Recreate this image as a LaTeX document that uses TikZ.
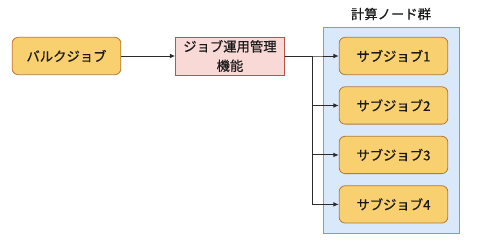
\documentclass[tikz,border=0pt]{standalone}
\usepackage{fontspec}
\newfontfamily\jpfont[FakeBold=0.6]{Noto Sans CJK JP}
\usetikzlibrary{positioning, arrows.meta}
\definecolor{JobFill}   {HTML}{F9D06F}
\definecolor{JobLine}   {HTML}{B47A36}
\definecolor{MgrFill}   {HTML}{F8D9D6}
\definecolor{MgrLine}   {HTML}{B85450}
\definecolor{GrpFill}   {HTML}{DAE8FC}
\definecolor{GrpLine}   {HTML}{7D9CC8}
\definecolor{ConnLine}  {HTML}{2B2B2B}
\definecolor{TxtMain}   {HTML}{1A1A1A}
\tikzset{
  jobbox/.style={fill=JobFill, draw=JobLine, rounded corners=4.5pt, line width=0.6pt,
                 minimum width=81.5pt, minimum height=28pt, inner sep=0pt,
                 font=\jpfont\fontsize{10}{12}\selectfont, text=TxtMain},
  mgrbox/.style={fill=MgrFill, draw=MgrLine, line width=0.6pt,
                 minimum width=81.5pt, minimum height=28.5pt, inner sep=0pt,
                 align=center, font=\jpfont\fontsize{10}{14.5}\selectfont, text=TxtMain},
  grpbox/.style={fill=GrpFill, draw=GrpLine, line width=0.6pt, inner sep=0pt},
  conn/.style={draw=ConnLine, line width=0.7pt, -{Latex[length=4pt, width=3.5pt]}}
}
\begin{document}
\begin{tikzpicture}[x=0.75pt, y=-0.75pt]
  \useasboundingbox (0,0) rectangle (483,244);
  % ── Group: compute nodes ──
  \node[grpbox, minimum width=102pt, minimum height=154.5pt, anchor=north west]
       (grp) at (323,27) {};
  \node[font=\jpfont\fontsize{10}{12}\selectfont, text=TxtMain] (grptitle) at (391,14) {計算ノード群};
  % ── Bulk job -> manager ──
  \node[jobbox] (bulk) at (66.5,56) {バルクジョブ};
  \node[mgrbox, right=40.5pt of bulk] (mgr) {ジョブ運用管理\\機能};
  % ── Sub jobs ──
  \node[jobbox] (sub1) at (393.5,56) {サブジョブ1};
  \node[jobbox, below=8.5pt of sub1] (sub2) {サブジョブ2};
  \node[jobbox, below=8.5pt of sub2] (sub3) {サブジョブ3};
  \node[jobbox, below=8.5pt of sub3] (sub4) {サブジョブ4};
  % ── Connectors ──
  \coordinate (fork) at (312,56);
  \draw[conn] (bulk) -- (mgr);
  \foreach \s in {sub1, sub2, sub3, sub4}
    \draw[conn] (mgr.east) -- (fork) |- (\s.west);
\end{tikzpicture}
\end{document}
